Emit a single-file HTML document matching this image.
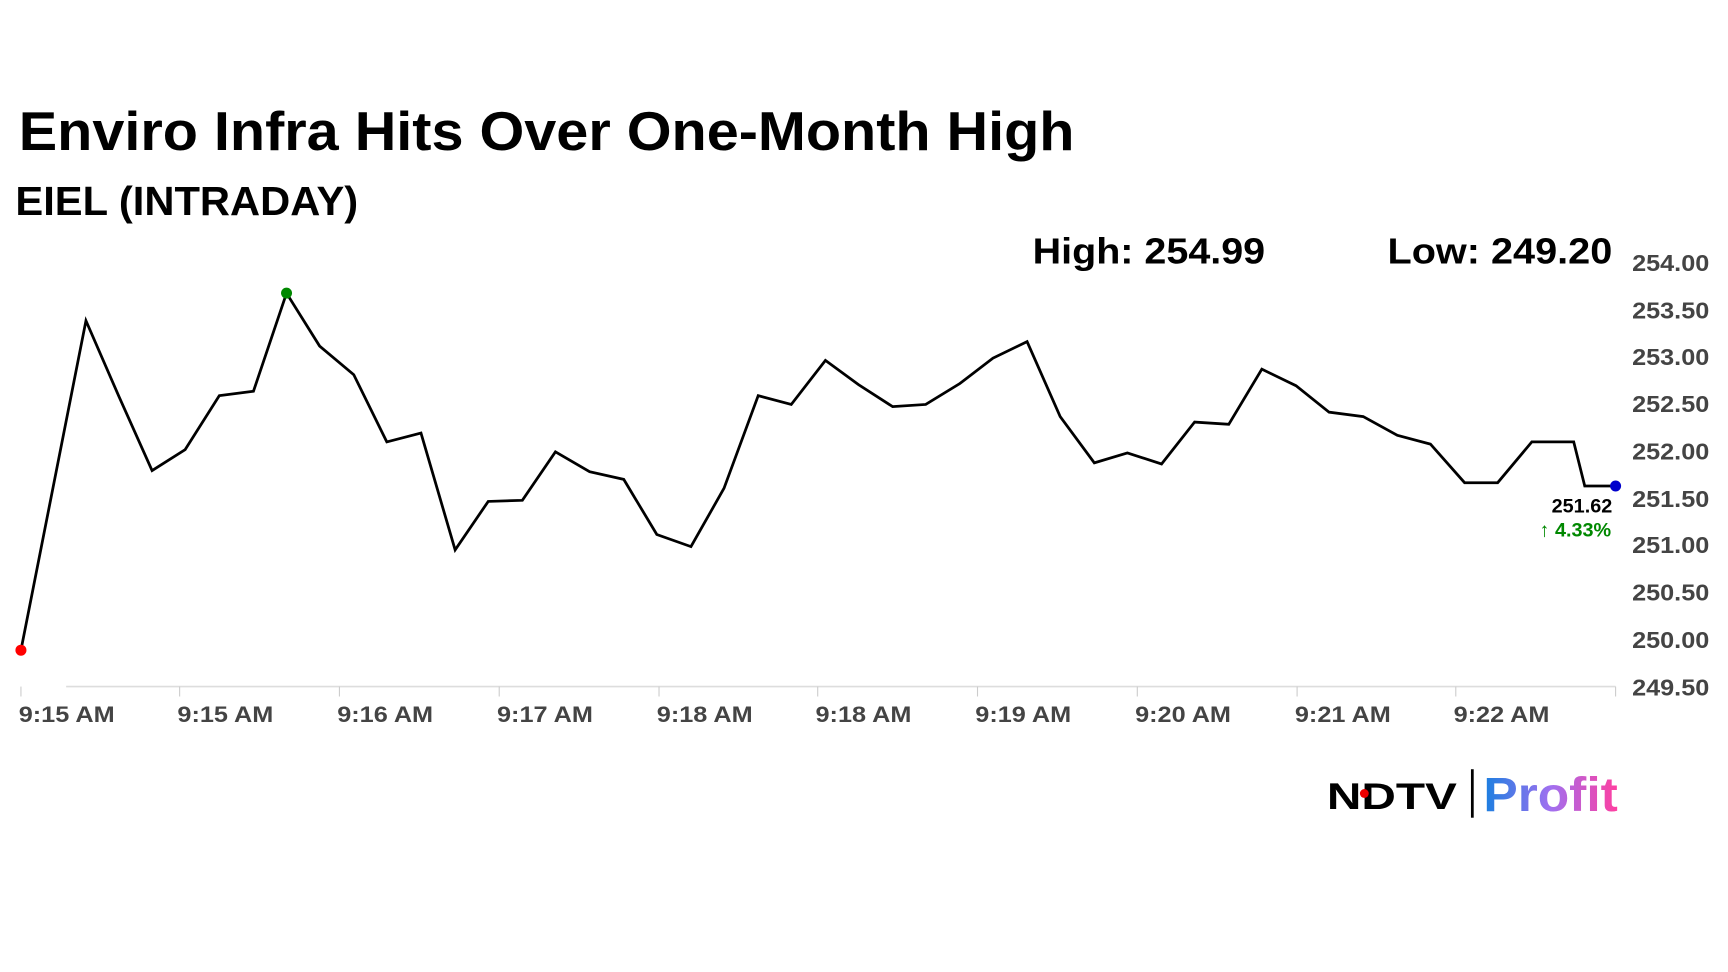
<!DOCTYPE html>
<html><head><meta charset="utf-8"><style>
html,body{margin:0;padding:0;background:#fff;width:1728px;height:972px;overflow:hidden}
svg{display:block}
</style></head><body>
<svg width="1728" height="972" viewBox="0 0 1568 882" preserveAspectRatio="none" xmlns="http://www.w3.org/2000/svg">
<defs><linearGradient id="g" x1="0" x2="1" y1="0" y2="0"><stop offset="0" stop-color="#1a7fe0"/><stop offset="0.5" stop-color="#a070f0"/><stop offset="1" stop-color="#ff3fa0"/></linearGradient></defs>
<rect width="1568" height="882" fill="#fff"/>
<text x="17" y="136" font-family="Liberation Sans, sans-serif" font-weight="bold" font-size="50" textLength="958" lengthAdjust="spacingAndGlyphs" fill="#000">Enviro Infra Hits Over One-Month High</text>
<text x="14" y="195" font-family="Liberation Sans, sans-serif" font-weight="bold" font-size="37" textLength="311" lengthAdjust="spacingAndGlyphs" fill="#000">EIEL (INTRADAY)</text>
<text x="937" y="239" font-family="Liberation Sans, sans-serif" font-weight="bold" font-size="33" textLength="211" lengthAdjust="spacingAndGlyphs" fill="#000">High: 254.99</text>
<text x="1259" y="239" font-family="Liberation Sans, sans-serif" font-weight="bold" font-size="33" textLength="204" lengthAdjust="spacingAndGlyphs" fill="#000">Low: 249.20</text>
<g font-family="Liberation Sans, sans-serif" font-weight="bold" font-size="21" fill="#444">
<text x="1481" y="246" textLength="70" lengthAdjust="spacingAndGlyphs">254.00</text><text x="1481" y="289" textLength="70" lengthAdjust="spacingAndGlyphs">253.50</text><text x="1481" y="331" textLength="70" lengthAdjust="spacingAndGlyphs">253.00</text><text x="1481" y="374" textLength="70" lengthAdjust="spacingAndGlyphs">252.50</text><text x="1481" y="417" textLength="70" lengthAdjust="spacingAndGlyphs">252.00</text><text x="1481" y="460" textLength="70" lengthAdjust="spacingAndGlyphs">251.50</text><text x="1481" y="502" textLength="70" lengthAdjust="spacingAndGlyphs">251.00</text><text x="1481" y="545" textLength="70" lengthAdjust="spacingAndGlyphs">250.50</text><text x="1481" y="588" textLength="70" lengthAdjust="spacingAndGlyphs">250.00</text><text x="1481" y="631" textLength="70" lengthAdjust="spacingAndGlyphs">249.50</text>
</g>
<line x1="60" y1="623" x2="1466" y2="623" stroke="#ddd" stroke-width="1.5"/>
<g stroke="#ccc" stroke-width="1">
<line x1="19" y1="623" x2="19" y2="632"/><line x1="163" y1="623" x2="163" y2="632"/><line x1="308" y1="623" x2="308" y2="632"/><line x1="453" y1="623" x2="453" y2="632"/><line x1="598" y1="623" x2="598" y2="632"/><line x1="742" y1="623" x2="742" y2="632"/><line x1="887" y1="623" x2="887" y2="632"/><line x1="1032" y1="623" x2="1032" y2="632"/><line x1="1177" y1="623" x2="1177" y2="632"/><line x1="1321" y1="623" x2="1321" y2="632"/><line x1="1466" y1="623" x2="1466" y2="632"/>
</g>
<g font-family="Liberation Sans, sans-serif" font-weight="bold" font-size="20" fill="#444">
<text x="17" y="655" textLength="87" lengthAdjust="spacingAndGlyphs">9:15 AM</text><text x="161" y="655" textLength="87" lengthAdjust="spacingAndGlyphs">9:15 AM</text><text x="306" y="655" textLength="87" lengthAdjust="spacingAndGlyphs">9:16 AM</text><text x="451" y="655" textLength="87" lengthAdjust="spacingAndGlyphs">9:17 AM</text><text x="596" y="655" textLength="87" lengthAdjust="spacingAndGlyphs">9:18 AM</text><text x="740" y="655" textLength="87" lengthAdjust="spacingAndGlyphs">9:18 AM</text><text x="885" y="655" textLength="87" lengthAdjust="spacingAndGlyphs">9:19 AM</text><text x="1030" y="655" textLength="87" lengthAdjust="spacingAndGlyphs">9:20 AM</text><text x="1175" y="655" textLength="87" lengthAdjust="spacingAndGlyphs">9:21 AM</text><text x="1319" y="655" textLength="87" lengthAdjust="spacingAndGlyphs">9:22 AM</text>
</g>
<polyline fill="none" stroke="#000" stroke-width="2.5" stroke-linejoin="miter" points="19,590 78,291 108,360 138,427 168,408 199,359 230,355 260,266 290,314 321,340 351,401 382,393 413,499 443,455 474,454 504,410 535,428 566,435 596,485 627,496 657,443 688,359 718,367 749,327 779,349 810,369 840,367 871,348 901,325 932,310 962,378 993,420 1023,411 1054,421 1084,383 1115,385 1145,335 1176,350 1206,374 1237,378 1268,395 1298,403 1329,438 1359,438 1390,401 1428,401 1438,441 1466,441"/>
<circle cx="19" cy="590" r="5" fill="#f00"/>
<circle cx="260" cy="266" r="5" fill="#080"/>
<circle cx="1466" cy="441" r="5" fill="#00c"/>
<text x="1463" y="465" text-anchor="end" font-family="Liberation Sans, sans-serif" font-weight="bold" font-size="18" fill="#000">251.62</text>
<text x="1462" y="487" text-anchor="end" font-family="Liberation Sans, sans-serif" font-weight="bold" font-size="18" fill="#080">↑ 4.33%</text>
<text x="1204" y="734" font-family="Liberation Sans, sans-serif" font-weight="900" font-size="34" textLength="118" lengthAdjust="spacingAndGlyphs" fill="#000">NDTV</text>
<circle cx="1238" cy="720" r="4" fill="#e00"/>
<line x1="1336" y1="698" x2="1336" y2="742" stroke="#000" stroke-width="2.5"/>
<text x="1346" y="736" font-family="Liberation Sans, sans-serif" font-weight="bold" font-size="44" textLength="122" lengthAdjust="spacingAndGlyphs" fill="url(#g)">Profit</text>
</svg>
</body></html>
